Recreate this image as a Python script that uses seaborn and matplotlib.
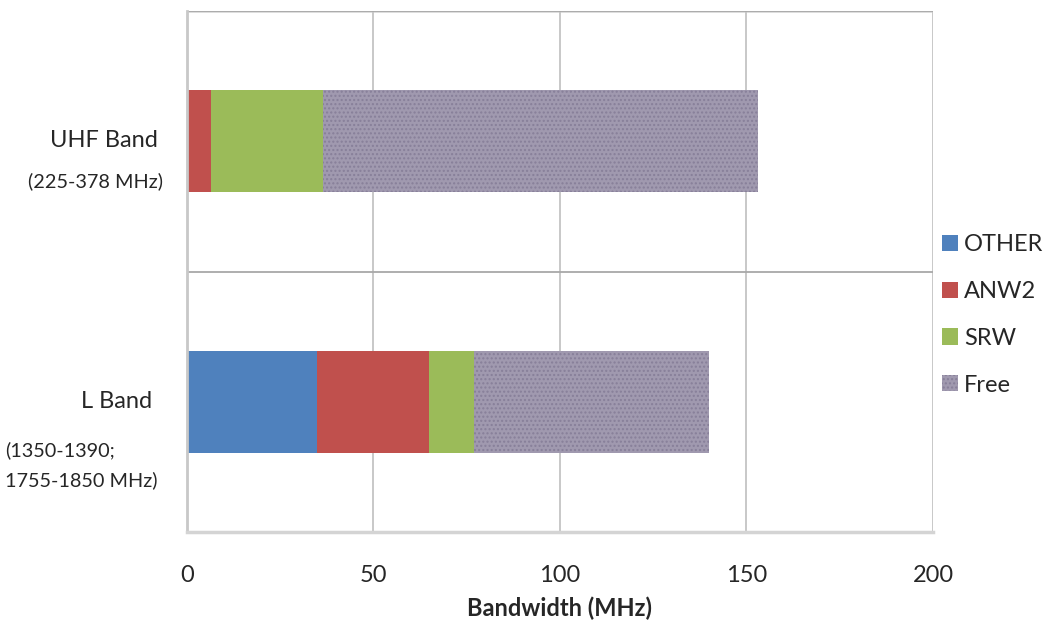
import seaborn as sns
import pandas as pd
import matplotlib.pyplot as plt
import numpy as np
from matplotlib.patches import Patch

# values (MHz)
bands = ["UHF Band", "L Band"]
band_ranges = ["(225-378 MHz)", "(1350-1390;\n1755-1850 MHz)"]
users = ["OTHER", "ANW2", "SRW", "Free"]
other = [0, 35]
anw2 = [6.5, 30]
srw = [30, 12]
free = [116.5, 63]
x_ticks = [0, 50, 100, 150, 200]

colors = {"OTHER": "#4F81BD", "ANW2": "#C0504D", "SRW": "#9BBB59", "Free": "#A099AF"}

sns.set_style("white")
plt.rcParams['font.family'] = ['Lato', 'DejaVu Sans']
plt.rcParams['hatch.linewidth'] = 1.0

df = pd.DataFrame({"band": bands, "OTHER": other, "ANW2": anw2, "SRW": srw, "Free": free})
cum = df[users].cumsum(axis=1)

fig = plt.figure(figsize=(10.52, 6.24), dpi=100)
ax = fig.add_axes([0.1775, 0.1474, 0.8869 - 0.1775, 0.9824 - 0.1474])

# stacked bars: draw the longest cumulative first, then overlay the shorter ones
for u in users[::-1]:
    n_before = len(ax.patches)
    sns.barplot(x=cum[u], y=df["band"], color=colors[u], width=0.39,
                saturation=1, ax=ax, linewidth=0)
    if u == "Free":
        for p in ax.patches[n_before:]:
            p.set_hatch("....")
            p.set_edgecolor("#877F99")
            p.set_linewidth(0)

ax.set_xlim(0, 200)
ax.set_ylim(1.5, -0.5)
ax.set_xticks(x_ticks)
ax.set_xticklabels([str(t) for t in x_ticks], fontsize=17, color="#262626")
ax.tick_params(axis='x', direction='inout', length=9, width=1.2, color="#C8C8C8", pad=19)
ax.set_yticks([0, 1])
ax.set_yticklabels([])
ax.tick_params(axis='y', which='major', length=0)
ax.set_yticks([-0.5, 0.5, 1.5], minor=True)
ax.tick_params(axis='y', which='minor', direction='out', length=6, width=1.5, color="#C8C8C8")
ax.set_ylabel("")
ax.set_xlabel("Bandwidth (MHz)", fontsize=17, fontweight='bold', color="#262626", labelpad=8)

ax.grid(axis='x', which='major', color="#C4C4C4", linewidth=1.3)
ax.grid(axis='y', which='minor', color="#A8A8A8", linewidth=1.3)
ax.set_axisbelow(True)
for s in ["top", "right"]:
    ax.spines[s].set_visible(False)
ax.spines["left"].set_color("#C8C8C8")
ax.spines["left"].set_linewidth(2)
ax.spines["bottom"].set_color("#D4D4D4")
ax.spines["bottom"].set_linewidth(2.5)
ax.axhline(-0.5, color="#D9D9D9", linewidth=2, zorder=0)

# category labels with their frequency ranges
yax = ax.get_yaxis_transform()
ax.annotate(bands[0], xy=(0, 0), xycoords=yax, xytext=(-20.5, 0.5), textcoords='offset points',
            ha='right', va='center', fontsize=17, color="#262626")
ax.annotate(band_ranges[0], xy=(0, 0), xycoords=yax, xytext=(-17, -29), textcoords='offset points',
            ha='right', va='center', fontsize=14.3, color="#262626")
ax.annotate(bands[1], xy=(0, 1), xycoords=yax, xytext=(-25, 0), textcoords='offset points',
            ha='right', va='center', fontsize=17, color="#262626")
ax.annotate(band_ranges[1], xy=(0, 1), xycoords=yax, xytext=(-130.5, -45.5), textcoords='offset points',
            ha='left', va='center', fontsize=14.3, color="#262626", linespacing=1.8)

handles = []
for u in users:
    if u == "Free":
        handles.append(Patch(facecolor=colors[u], edgecolor="#877F99", hatch="....", linewidth=0, label=u))
    else:
        handles.append(Patch(facecolor=colors[u], linewidth=0, label=u))
fig.legend(handles=handles, loc='center left', bbox_to_anchor=(942 / 1052, 1 - 315 / 624),
           frameon=False, fontsize=17, handlelength=0.68, handleheight=0.68,
           handletextpad=0.25, labelspacing=1.09, borderaxespad=0, borderpad=0,
           labelcolor="#262626")

fig.savefig("out.png", dpi=100, facecolor='w')
